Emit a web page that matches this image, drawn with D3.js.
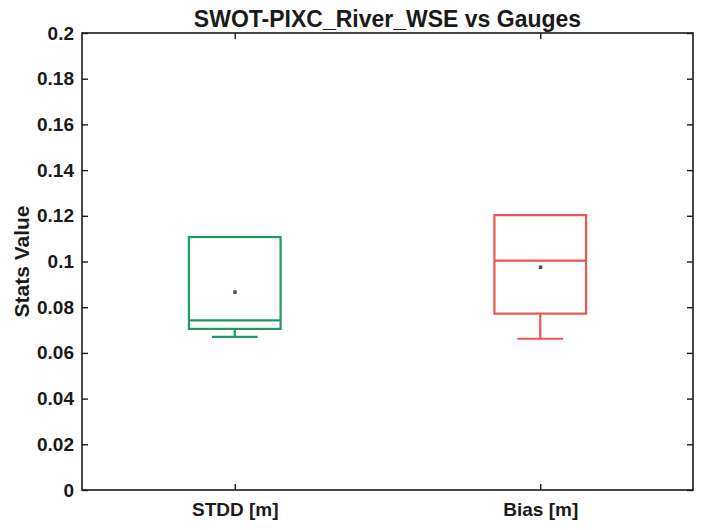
<!DOCTYPE html>
<html>
<head>
<meta charset="utf-8">
<script src="https://cdn.jsdelivr.net/npm/d3@7"></script>
<style>
  body { margin: 0; background: #fff; }
  svg text { font-family: "Liberation Sans", Arial, sans-serif; font-weight: bold; fill: #1a1a1a; }
</style>
</head>
<body>
<svg id="chart" width="702" height="530"></svg>
<script>
// Box statistics per metric
const categories = ["STDD [m]", "Bias [m]"];
const q3Values = [0.1107, 0.1203];
const medianValues = [0.0742, 0.1004];
const q1Values = [0.0705, 0.0772];
const whiskerLow = [0.0670, 0.0662];
const whiskerHigh = [0.1107, 0.1203];
const meanValues = [0.0867, 0.0976];
const boxColors = ["#1f9a63", "#ec5452"];
const yTicks = [0, 0.02, 0.04, 0.06, 0.08, 0.1, 0.12, 0.14, 0.16, 0.18, 0.2];

const svg = d3.select("#chart");
const m = { left: 82, right: 9, top: 33, bottom: 40 };
const W = 702, H = 530;
const x = d3.scaleLinear().domain([0.5, categories.length + 0.5]).range([m.left, W - m.right]);
const y = d3.scaleLinear().domain([0, 0.2]).range([H - m.bottom, m.top]);
const pos = categories.map((c, i) => i + 1);
const halfW = 0.15;
const capW = 0.075;

const g = svg.append("g");

// Boxes
categories.forEach((c, i) => {
  const px = pos[i];
  const col = boxColors[i];
  const bg = g.append("g").attr("stroke", col).attr("stroke-width", 2.2).attr("fill", "none");
  // lower whisker
  bg.append("line").attr("x1", x(px)).attr("x2", x(px))
    .attr("y1", y(q1Values[i])).attr("y2", y(whiskerLow[i]));
  bg.append("line").attr("x1", x(px - capW)).attr("x2", x(px + capW))
    .attr("y1", y(whiskerLow[i])).attr("y2", y(whiskerLow[i]));
  // upper whisker
  if (whiskerHigh[i] > q3Values[i]) {
    bg.append("line").attr("x1", x(px)).attr("x2", x(px))
      .attr("y1", y(q3Values[i])).attr("y2", y(whiskerHigh[i]));
    bg.append("line").attr("x1", x(px - capW)).attr("x2", x(px + capW))
      .attr("y1", y(whiskerHigh[i])).attr("y2", y(whiskerHigh[i]));
  }
  // box
  bg.append("rect").attr("x", x(px - halfW)).attr("width", x(px + halfW) - x(px - halfW))
    .attr("y", y(q3Values[i])).attr("height", y(q1Values[i]) - y(q3Values[i]));
  // median
  bg.append("line").attr("x1", x(px - halfW)).attr("x2", x(px + halfW))
    .attr("y1", y(medianValues[i])).attr("y2", y(medianValues[i]));
  // mean marker
  g.append("rect").attr("x", x(px) - 1.5).attr("y", y(meanValues[i]) - 1.5)
    .attr("width", 3.5).attr("height", 3.5).attr("fill", "#6a3a5c");
});

// Axes frame with inward ticks on all sides
const axG = svg.append("g").attr("stroke", "#1a1a1a").attr("stroke-width", 1.6).attr("fill", "none");
axG.append("rect").attr("x", m.left).attr("y", m.top)
  .attr("width", W - m.right - m.left).attr("height", H - m.bottom - m.top);

const axLeft = svg.append("g").attr("transform", `translate(${m.left},0)`)
  .call(d3.axisLeft(y).tickValues(yTicks).tickSize(-6).tickPadding(8).tickFormat(d => d3.format("")(+d.toFixed(2))));
const axRight = svg.append("g").attr("transform", `translate(${W - m.right},0)`)
  .call(d3.axisRight(y).tickValues(yTicks).tickSize(-6).tickFormat(""));
const axBottom = svg.append("g").attr("transform", `translate(0,${H - m.bottom})`)
  .call(d3.axisBottom(x).tickValues(pos).tickSize(-6).tickPadding(13).tickFormat((d, i) => categories[i]));
const axTop = svg.append("g").attr("transform", `translate(0,${m.top})`)
  .call(d3.axisTop(x).tickValues(pos).tickSize(-6).tickFormat(""));

[axLeft, axRight, axBottom, axTop].forEach(a => {
  a.select(".domain").remove();
  a.selectAll(".tick line").attr("stroke", "#1a1a1a").attr("stroke-width", 1.4);
  a.selectAll("text").attr("font-size", 19).attr("fill", "#1a1a1a");
});

// Title and axis label
svg.append("text").attr("x", (m.left + W - m.right) / 2).attr("y", 27)
  .attr("text-anchor", "middle").attr("font-size", 23).text("SWOT-PIXC_River_WSE vs Gauges");
svg.append("text").attr("transform", `translate(29,${(m.top + H - m.bottom) / 2}) rotate(-90)`)
  .attr("text-anchor", "middle").attr("font-size", 21).text("Stats Value");
</script>
</body>
</html>
